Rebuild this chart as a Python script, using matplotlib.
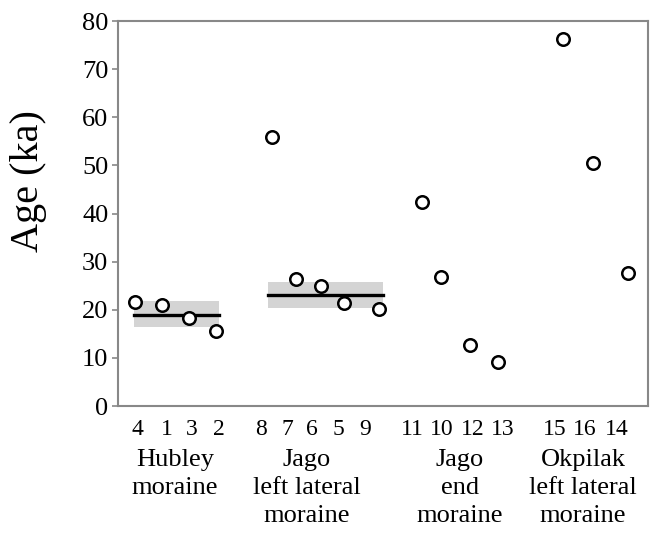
import matplotlib.pyplot as plt

plt.rcParams['font.family'] = ['Liberation Serif', 'DejaVu Serif']

# sample ids and ages (ka), grouped by moraine
groups = ['Hubley\nmoraine', 'Jago\nleft lateral\nmoraine', 'Jago\nend\nmoraine',
          'Okpilak\nleft lateral\nmoraine']
sample_ids = [['4', '1', '3', '2'], ['8', '7', '6', '5', '9'],
              ['11', '10', '12', '13'], ['15', '16', '14']]
ages = [[21.7, 21.0, 18.2, 15.6], [55.9, 26.4, 24.9, 21.5, 20.1],
        [42.4, 26.9, 12.7, 9.2], [76.2, 50.5, 27.7]]
# mean and uncertainty band for the two dated moraines
mean_age = [19.0, 23.1]
band_low = [16.4, 20.3]
band_high = [21.8, 25.7]

# layout (horizontal placement of points, labels)
point_x = [[135, 162, 189, 216], [272, 296, 321, 344, 379],
           [422, 441, 470, 498], [563, 593, 628]]
label_x = [[137, 167, 192, 219], [261, 287, 312, 338, 365],
           [412, 442, 473, 503], [555, 585, 617]]
group_x = [175, 307, 460, 583]
band_x = [(134, 219), (268, 383)]

fig = plt.figure(figsize=(6.53, 5.35), dpi=100)
ax = fig.add_axes([0.1807, 0.2411, 0.8116, 0.7196])

for i in range(len(band_x)):
    x0, x1 = band_x[i]
    ax.fill_between([x0, x1], band_low[i], band_high[i], color='#d4d4d4', lw=0, zorder=1)
    ax.plot([x0, x1], [mean_age[i], mean_age[i]], color='black', lw=2.4, zorder=2)

for g in range(len(groups)):
    ax.plot(point_x[g], ages[g], 'o', ms=9, mfc='white', mec='black', mew=1.8,
            ls='none', zorder=3, clip_on=False)
    for lx, sid in zip(label_x[g], sample_ids[g]):
        ax.text(lx, -2.6, sid, ha='center', va='top', fontsize=17)
    ax.text(group_x[g], -8.9, groups[g], ha='center', va='top', fontsize=19,
            linespacing=1.37)

ax.set_xlim(118, 648)
ax.set_ylim(0, 80)
ax.set_xticks([])
ax.set_yticks(range(0, 81, 10))
ax.tick_params(axis='y', labelsize=19, length=4, width=1.2, color='#888888', pad=3)
for s in ax.spines.values():
    s.set_color('#888888')
    s.set_linewidth(1.5)
fig.text(0.0444, 0.6617, 'Age (ka)', rotation=90, ha='center', va='center', fontsize=29)

fig.savefig('out.png', dpi=100)
